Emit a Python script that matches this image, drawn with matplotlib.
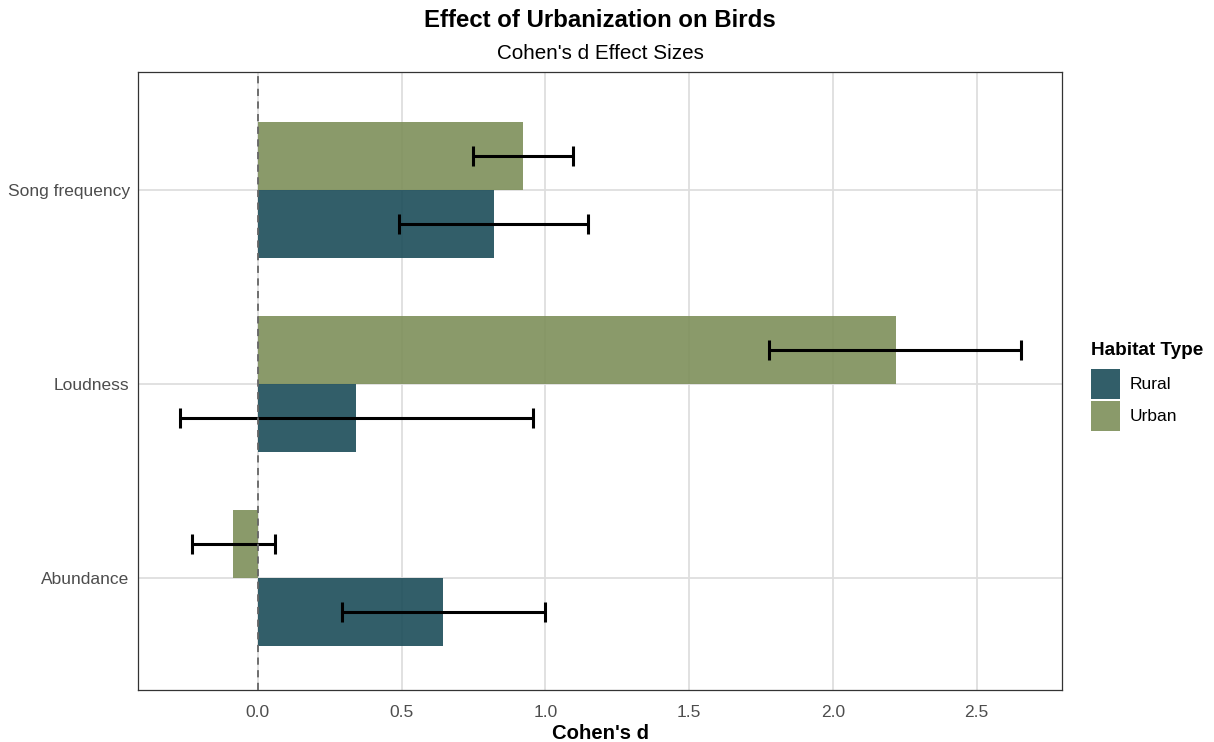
import numpy as np
import matplotlib.pyplot as plt
from matplotlib.patches import Patch

categories = ["Abundance", "Loudness", "Song frequency"]
groups = ["Rural", "Urban"]

rural_d = [0.645, 0.342, 0.820]
rural_lo = [0.293, -0.272, 0.492]
rural_hi = [0.997, 0.958, 1.147]

urban_d = [-0.086, 2.218, 0.922]
urban_lo = [-0.231, 1.778, 0.747]
urban_hi = [0.059, 2.655, 1.096]

colors = {"Rural": "#1C4C59", "Urban": "#7D8F5A"}

plt.rcParams['font.family'] = ['Liberation Sans', 'DejaVu Sans']

fig = plt.figure(figsize=(12.14, 7.42), dpi=100)
ax = fig.add_axes([0.1137, 0.0701, 0.7611, 0.8329])

y = np.arange(1, len(categories) + 1)
h = 0.35

series = [
  ("Rural", rural_d, rural_lo, rural_hi, -h/2),
  ("Urban", urban_d, urban_lo, urban_hi, h/2),
]
for name, d, lo, hi, off in series:
  d = np.array(d)
  ax.barh(y + off, d, height=h, color=colors[name], alpha=0.9, zorder=2)
  xerr = [d - np.array(lo), np.array(hi) - d]
  ax.errorbar(d, y + off, xerr=xerr, fmt='none', ecolor='black',
              elinewidth=2.2, capsize=7, capthick=2.2, zorder=3)

ax.axvline(0, color='#666666', linestyle=(0, (4, 3)), linewidth=1.3, zorder=4)

ax.set_xlim(-0.417, 2.797)
ax.set_ylim(0.423, 3.608)
ax.set_xticks([0.0, 0.5, 1.0, 1.5, 2.0, 2.5])
ax.set_xticklabels(["0.0", "0.5", "1.0", "1.5", "2.0", "2.5"])
ax.set_yticks(y)
ax.set_yticklabels(categories)
ax.grid(True, color='#DEDEDE', linewidth=1.3, zorder=0)
ax.set_axisbelow(True)
ax.tick_params(axis='both', length=0, labelsize=12.5, labelcolor='#4D4D4D')
ax.tick_params(axis='x', pad=11)
ax.tick_params(axis='y', pad=6)
for s in ax.spines.values():
  s.set_color('#333333')
  s.set_linewidth(0.9)

ax.set_xlabel("Cohen's d", fontsize=14.6, fontweight='bold', labelpad=3)

fig.text(0.4942, 0.972, "Effect of Urbanization on Birds", ha='center',
         va='center', fontsize=17.3, fontweight='bold')
fig.text(0.4942, 0.928, "Cohen's d Effect Sizes", ha='center', va='center',
         fontsize=14.9)

handles = [Patch(facecolor=colors[g], alpha=0.9, label=g) for g in groups]
leg = fig.legend(handles=handles, title="Habitat Type", loc='upper left',
                 bbox_to_anchor=(0.899, 0.539), frameon=False, fontsize=12.5,
                 title_fontproperties={'weight': 'bold', 'size': 13.6},
                 handlelength=1.65, handleheight=2.3, handletextpad=0.55,
                 labelspacing=0.1, borderpad=0, borderaxespad=0)
leg._legend_box.align = "left"
leg._legend_box.sep = 7

fig.savefig("out.png", dpi=100)
